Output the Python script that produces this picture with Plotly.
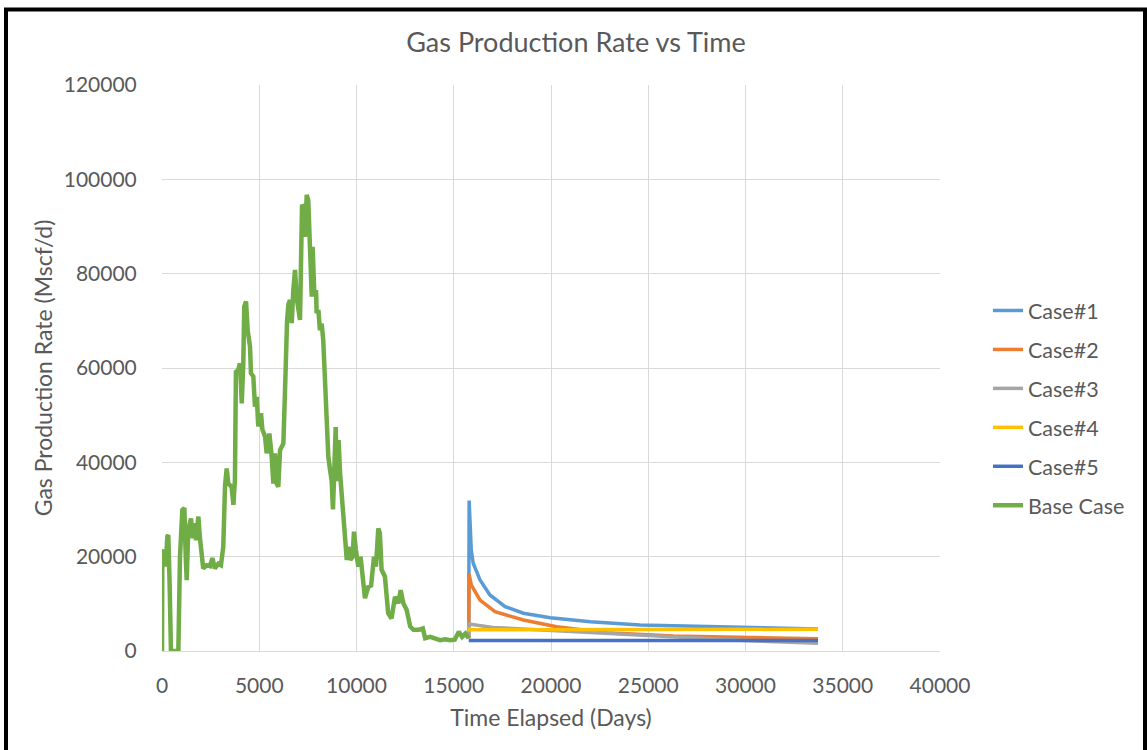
import plotly.graph_objects as go

# ---- Base case (history) ----
base_days = [0, 17, 120, 190, 275, 325, 395, 460, 840, 925, 1045, 1150, 1220, 1270, 1350, 1490,
             1580, 1660, 1750, 1870, 1950, 2040, 2120, 2300, 2470, 2590, 2720, 2900, 3030, 3150,
             3240, 3325, 3410, 3580, 3670, 3750, 3800, 3920, 4010, 4100, 4180, 4230, 4320, 4405,
             4525, 4575, 4695, 4780, 4870, 4950, 5090, 5160, 5300, 5380, 5520, 5640, 5725, 5810,
             5895, 5980, 6070, 6240, 6300, 6360, 6430, 6500, 6580, 6670, 6750, 6840, 6920, 7010,
             7095, 7200, 7270, 7350, 7440, 7520, 7610, 7700, 7745, 7830, 7920, 7950, 8040, 8120,
             8210, 8290, 8380, 8470, 8550, 8640, 8720, 8790, 8880, 8930, 8980, 9080, 9150, 9240,
             9320, 9410, 9500, 9580, 9680, 9800, 9870, 9970, 10090, 10210, 10350, 10435, 10610,
             10750, 10900, 11000, 11120, 11200, 11290, 11460, 11630, 11800, 11980, 12150, 12270,
             12410, 12580, 12760, 12930, 13190, 13410, 13530, 13790, 14050, 14300, 14560, 14820,
             15050, 15260, 15430, 15600, 15770]
base_rate = [0, 20700, 21400, 17900, 24300, 24600, 13800, 0, 0, 20000, 29900, 30300, 20000, 15000,
             25700, 28100, 23900, 27100, 23500, 28500, 24000, 21400, 17500, 18200, 18000, 19700,
             17500, 18500, 18200, 22100, 35000, 38700, 35500, 34800, 31000, 36300, 59200, 59600,
             61000, 52500, 61000, 73000, 74100, 68000, 64500, 58900, 58200, 51800, 53900, 47600,
             50400, 47000, 45400, 41900, 46100, 41200, 35500, 41900, 35500, 34800, 42600, 44000,
             50000, 60000, 70000, 73500, 74400, 69500, 76500, 80800, 75000, 71600, 70200, 94600,
             94200, 87800, 96700, 95600, 85700, 75100, 85700, 75800, 76500, 71600, 72300, 68000,
             69400, 65900, 57400, 46100, 41200, 38400, 36200, 30000, 41000, 47500, 36000, 44700,
             38000, 32700, 29900, 23500, 19300, 22100, 19300, 20000, 25300, 21400, 17900, 20000,
             15100, 11200, 13600, 13900, 20000, 17900, 26000, 25000, 17200, 15800, 8000, 6900,
             11500, 10100, 12900, 10100, 8700, 5200, 4500, 4500, 4800, 2700, 3000, 2700, 2300,
             2500, 2300, 2400, 4100, 3000, 3700, 2700]

# ---- Forecast cases ----
case1_days = [15770, 15790, 15900, 16000, 16350, 16860, 17640, 18580, 19960, 22020, 24590, 28020, 31450, 33730]
case1_rate = [2700, 31900, 21400, 18600, 15050, 11870, 9400, 8000, 7070, 6200, 5500, 5150, 4800, 4660]

case2_days = [15770, 15790, 15900, 16350, 17120, 18580, 20290, 22860, 26290, 29720, 33730]
case2_rate = [2700, 16250, 14000, 10800, 8330, 6570, 5150, 3890, 3180, 2900, 2600]

case3_days = [15770, 15790, 17000, 21200, 26290, 30000, 33730]
case3_rate = [2700, 5720, 5000, 4100, 2900, 2200, 1630]

case4_days = [15770, 15790, 15900, 20000, 25000, 30000, 33730]
case4_rate = [4100, 4600, 4500, 4550, 4550, 4600, 4600]

case5_days = [15770, 20000, 25000, 30000, 33730]
case5_rate = [2200, 2200, 2200, 2200, 2200]

series = [
    ("Case#1", case1_days, case1_rate, "#5B9BD5", 3.5),
    ("Case#2", case2_days, case2_rate, "#ED7D31", 3.5),
    ("Case#3", case3_days, case3_rate, "#A5A5A5", 3.5),
    ("Case#4", case4_days, case4_rate, "#FFC000", 3.5),
    ("Case#5", case5_days, case5_rate, "#4472C4", 3.5),
    ("Base Case", base_days, base_rate, "#70AD47", 4.5),
]

x_ticks = [0, 5000, 10000, 15000, 20000, 25000, 30000, 35000, 40000]
y_ticks = [0, 20000, 40000, 60000, 80000, 100000, 120000]

FONT = "Lato, Carlito, Calibri, sans-serif"
TXT = "#595959"

fig = go.Figure()
for i, (name, xs, ys, col, w) in enumerate(series):
    fig.add_trace(go.Scatter(x=xs, y=ys, mode="lines", name=name,
                             line=dict(color=col, width=w), legendgroup=f"g{i}"))

W, H = 1147, 750
L, R, T, B = 162, 940, 85, 651

fig.update_layout(
    width=W, height=H,
    margin=dict(l=L, r=W - R, t=T, b=H - B, autoexpand=False),
    paper_bgcolor="white", plot_bgcolor="white",
    font=dict(family=FONT, color=TXT, size=21),
    title=dict(text="Gas Production Rate vs Time", x=576 / W, xanchor="center",
               y=1 - 43 / H, yanchor="middle", xref="container", yref="container",
               font=dict(size=27, color=TXT, family=FONT)),
    xaxis=dict(range=[0, 40000], tickvals=x_ticks, ticktext=[str(v) for v in x_ticks],
               showgrid=True, gridcolor="#D9D9D9", gridwidth=1,
               showline=True, linecolor="#D9D9D9", linewidth=1,
               zeroline=False, ticks="outside", ticklen=16, tickcolor="rgba(0,0,0,0)",
               tickfont=dict(size=21, color=TXT),
               title=dict(text="Time Elapsed (Days)", font=dict(size=23, color=TXT), standoff=13)),
    yaxis=dict(range=[0, 120000], tickvals=y_ticks, ticktext=[str(v) for v in y_ticks],
               showgrid=True, gridcolor="#D9D9D9", gridwidth=1,
               showline=False, zeroline=False,
               ticks="outside", ticklen=20, tickcolor="rgba(0,0,0,0)",
               tickfont=dict(size=21, color=TXT),
               title=dict(text="Gas Production Rate (Mscf/d)", font=dict(size=23, color=TXT), standoff=4)),
    legend=dict(x=(988 - L) / (R - L), xanchor="left", y=(B - 290) / (B - T), yanchor="top",
                font=dict(size=21.5, color=TXT), tracegroupgap=8, itemwidth=30,
                bgcolor="rgba(0,0,0,0)"),
    showlegend=True,
)

# outer black frame
fig.add_shape(type="rect", xref="paper", yref="paper",
              x0=(6 - L) / (R - L), x1=(1145 - L) / (R - L),
              y0=(B - 770) / (B - T), y1=(B - 9.5) / (B - T),
              line=dict(color="black", width=4), fillcolor="rgba(0,0,0,0)", layer="above")

fig.write_html("out.html", config={"displayModeBar": False},
               post_script="document.body.style.margin='0';document.body.style.padding='0';")
